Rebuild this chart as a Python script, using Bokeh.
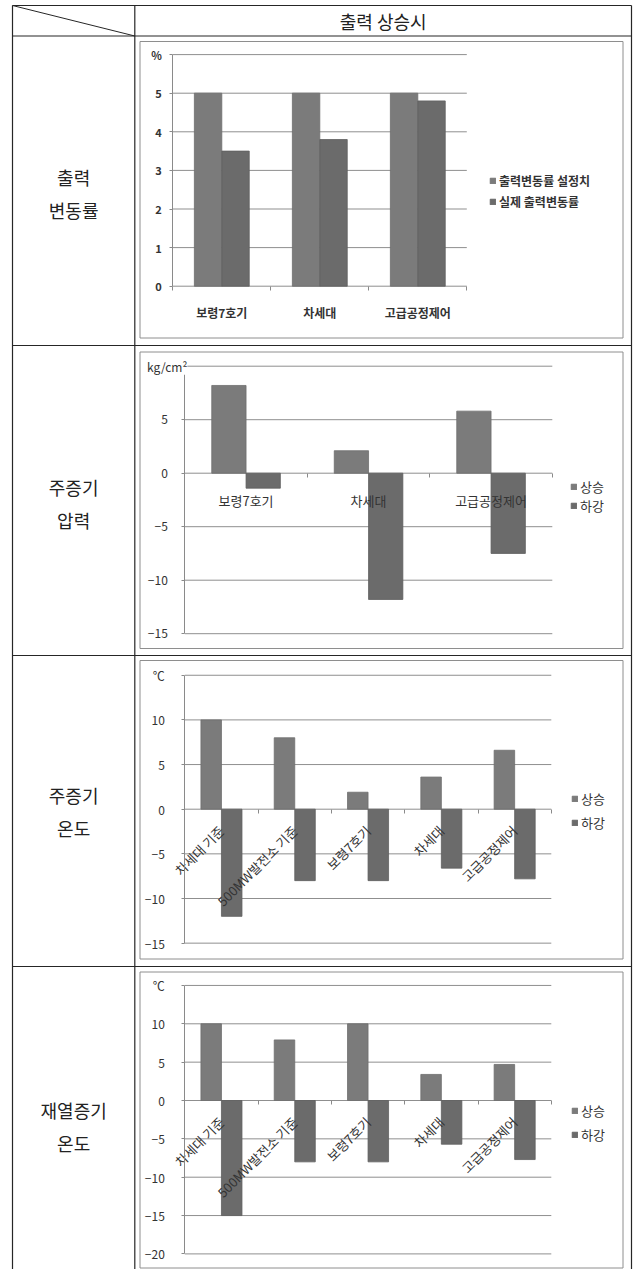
import math
import numpy as np
from bokeh.plotting import figure
from bokeh.models import Range1d, LinearAxis, FixedTicker, Legend, LegendItem, Label
from bokeh.core.properties import value
from bokeh.embed import file_html
from bokeh.resources import INLINE

# ---------------- data ----------------
header_title = "출력 상승시"
row_titles = [["출력", "변동률"], ["주증기", "압력"], ["주증기", "온도"], ["재열증기", "온도"]]

rate_categories = ["보령7호기", "차세대", "고급공정제어"]
rate_series = ["출력변동률 설정치", "실제 출력변동률"]
rate_setpoint = [5, 5, 5]
rate_actual = [3.5, 3.8, 4.8]
rate_yticks = [0, 1, 2, 3, 4, 5, 6]
rate_unit = "%"

updown_series = ["상승", "하강"]

pressure_categories = ["보령7호기", "차세대", "고급공정제어"]
pressure_rise = [8.2, 2.1, 5.8]
pressure_fall = [-1.4, -11.8, -7.5]
pressure_yticks = [-15, -10, -5, 0, 5, 10]
pressure_unit = "kg/cm²"

temp_categories = ["차세대 기준", "500MW발전소 기준", "보령7호기", "차세대", "고급공정제어"]
main_temp_rise = [10, 8, 1.9, 3.6, 6.6]
main_temp_fall = [-12, -8, -8, -6.6, -7.8]
main_temp_yticks = [-15, -10, -5, 0, 5, 10, 15]
reheat_temp_rise = [10, 7.9, 10, 3.4, 4.7]
reheat_temp_fall = [-15, -8, -8, -5.7, -7.7]
reheat_temp_yticks = [-20, -15, -10, -5, 0, 5, 10, 15]
temp_unit = "℃"

# ---------------- page geometry & style ----------------
W, H = 634, 1269
FONT = "Noto Sans CJK KR"
TABLE_L, TABLE_DIV, TABLE_R, TABLE_TOP = 12, 134.3, 631, 5
ROW_EDGES = [35.5, 345, 655, 966]
ROW_TEXT_MID = [193, 503, 811, 1126]
LINE_GAP = 33
TABLE_COLOR = "#262626"
FRAME_COLOR = "#8e8e8e"
GRID_COLOR = "#8f8f8f"
AXIS_COLOR = "#8a8a8a"
TEXT_COLOR = "#333333"
BAR_FILLS = ["#7b7b7b", "#6b6b6b"]
BAR_LINES = ["#6f6f6f", "#5f5f5f"]
BAR_W = 0.28

p = figure(width=W, height=H, x_range=Range1d(0, W), y_range=Range1d(H, 0),
           x_axis_type=None, y_axis_type=None, output_backend="svg",
           toolbar_location=None, min_border=0)
p.title.visible = False
p.outline_line_color = None
p.background_fill_color = "white"
p.border_fill_color = "white"

# ---------------- table grid ----------------
hy = [TABLE_TOP] + ROW_EDGES
p.segment(x0=[TABLE_L] * len(hy), x1=[TABLE_R] * len(hy), y0=hy, y1=hy,
          line_color=TABLE_COLOR, line_width=1.2)
vx = [TABLE_L, TABLE_DIV, TABLE_R]
p.segment(x0=vx, x1=vx, y0=[TABLE_TOP] * 3, y1=[H] * 3,
          line_color=TABLE_COLOR, line_width=1.2)
p.segment(x0=[TABLE_L], y0=[TABLE_TOP], x1=[TABLE_DIV], y1=[ROW_EDGES[0]],
          line_color=TABLE_COLOR, line_width=1)

p.text(x=[(TABLE_DIV + TABLE_R) / 2], y=[(TABLE_TOP + ROW_EDGES[0]) / 2], text=[header_title],
       text_font=value(FONT), text_font_size="18px", text_color="#222222",
       text_align="center", text_baseline="middle")

lx, ly, lt = [], [], []
for mid, lines in zip(ROW_TEXT_MID, row_titles):
    for k, t in enumerate(lines):
        lx.append((TABLE_L + TABLE_DIV) / 2)
        ly.append(mid + (k - (len(lines) - 1) / 2) * LINE_GAP)
        lt.append(t)
p.text(x=lx, y=ly, text=lt, text_font=value(FONT), text_font_size="18px",
       text_color="#222222", text_align="center", text_baseline="middle")


# ---------------- charts ----------------
def add_chart(idx, cats, names, first, second, yticks, unit, border, plot, legend_box, style):
    n = len(cats)
    left, right, zero_y, ppu = plot
    step = (right - left) / n
    xk, yk = f"x{idx}", f"y{idx}"
    p.extra_x_ranges[xk] = Range1d(-0.5 - left / step, n - 0.5 + (W - right) / step)
    p.extra_y_ranges[yk] = Range1d((zero_y - H) / ppu, zero_y / ppu)

    bl, bt, br, bb = border
    p.quad(left=[bl], right=[br], top=[bt], bottom=[bb], fill_color=None,
           line_color=FRAME_COLOR, line_width=1)

    p.segment(x0=[-0.5] * len(yticks), x1=[n - 0.5] * len(yticks), y0=yticks, y1=yticks,
              line_color=GRID_COLOR, line_width=1, x_range_name=xk, y_range_name=yk)

    xs = np.arange(n)
    renderers = []
    for j, vals in enumerate([first, second]):
        r = p.vbar(x=xs + (j - 0.5) * BAR_W, top=vals, bottom=0, width=BAR_W,
                   fill_color=BAR_FILLS[j], line_color=BAR_LINES[j], line_width=0.8,
                   x_range_name=xk, y_range_name=yk)
        renderers.append(r)

    xaxis = LinearAxis(x_range_name=xk, y_range_name=yk, fixed_location=0,
                       bounds=(-0.5, n - 0.5),
                       ticker=FixedTicker(ticks=list(range(n)),
                                          minor_ticks=[i - 0.5 for i in range(n + 1)]),
                       major_label_overrides={i: c for i, c in enumerate(cats)},
                       axis_line_color=None, major_tick_out=0, major_tick_in=0,
                       minor_tick_out=4, minor_tick_in=0, minor_tick_line_color=AXIS_COLOR,
                       major_label_standoff=style["x_standoff"],
                       major_label_orientation=style["x_angle"],
                       major_label_text_font=FONT,
                       major_label_text_font_size=style["x_size"],
                       major_label_text_font_style=style["weight"],
                       major_label_text_color=TEXT_COLOR)
    p.add_layout(xaxis, "below")

    top_label = unit if style["unit_on_axis"] else ""
    yaxis = LinearAxis(x_range_name=xk, y_range_name=yk, fixed_location=-0.5,
                       bounds=(yticks[0], yticks[-1]),
                       ticker=FixedTicker(ticks=yticks),
                       major_label_overrides={yticks[-1]: top_label},
                       axis_line_color=AXIS_COLOR, axis_line_width=1,
                       major_tick_out=3, major_tick_in=0, major_tick_line_color=AXIS_COLOR,
                       major_label_standoff=style["y_standoff"],
                       major_label_text_font=FONT,
                       major_label_text_font_size=style["y_size"],
                       major_label_text_font_style=style["weight"],
                       major_label_text_color=TEXT_COLOR)
    p.add_layout(yaxis, "left")

    if not style["unit_on_axis"]:
        p.add_layout(Label(x=bl + 7, y=yticks[-1], y_range_name=yk, text=unit,
                           text_font=FONT, text_font_size=style["y_size"],
                           text_color=TEXT_COLOR, text_baseline="middle",
                           background_fill_color="white"))

    lgx, lg_top, item_h, gap = legend_box
    legend = Legend(items=[LegendItem(label=nm, renderers=[r]) for nm, r in zip(names, renderers)],
                    location=(lgx, H - (lg_top + 2 * item_h + gap)),
                    orientation="vertical", padding=0, margin=0, spacing=gap,
                    glyph_width=7, glyph_height=7, label_standoff=3,
                    label_height=item_h, label_text_font=FONT,
                    label_text_font_size=style["legend_size"],
                    label_text_font_style=style["weight"],
                    label_text_color=TEXT_COLOR,
                    border_line_color=None, background_fill_alpha=0)
    p.add_layout(legend)


add_chart(1, rate_categories, rate_series, rate_setpoint, rate_actual, rate_yticks, rate_unit,
          border=(139.5, 41, 622.5, 337.5), plot=(172.3, 466.3, 285.7, 38.6),
          legend_box=(489, 171.5, 18, 3),
          style=dict(x_angle="horizontal", unit_on_axis=True, x_standoff=14, x_size="12px",
                     y_standoff=8, y_size="11px", weight="bold", legend_size="12px"))
add_chart(2, pressure_categories, updown_series, pressure_rise, pressure_fall, pressure_yticks,
          pressure_unit, border=(139.5, 351.5, 622.5, 648), plot=(184.3, 551.8, 472.7, 10.7),
          legend_box=(570, 479, 18, 0),
          style=dict(x_angle="horizontal", unit_on_axis=False, x_standoff=14, x_size="13px",
                     y_standoff=14, y_size="12px", weight="normal", legend_size="13px"))
add_chart(3, temp_categories, updown_series, main_temp_rise, main_temp_fall, main_temp_yticks,
          temp_unit, border=(139.5, 660, 622.5, 958.5), plot=(184.3, 550.8, 808.7, 8.93),
          legend_box=(571, 791, 18, 5),
          style=dict(x_angle=math.pi / 4, unit_on_axis=True, x_standoff=15, x_size="13px",
                     y_standoff=17, y_size="12px", weight="normal", legend_size="13px"))
add_chart(4, temp_categories, updown_series, reheat_temp_rise, reheat_temp_fall,
          reheat_temp_yticks, temp_unit, border=(139.5, 971.5, 622.5, 1267.5),
          plot=(184.3, 550.8, 1100, 7.67),
          legend_box=(571, 1102.5, 18, 5),
          style=dict(x_angle=math.pi / 4, unit_on_axis=True, x_standoff=15, x_size="13px",
                     y_standoff=17, y_size="12px", weight="normal", legend_size="13px"))

open("out.html", "w").write(file_html(p, INLINE))
